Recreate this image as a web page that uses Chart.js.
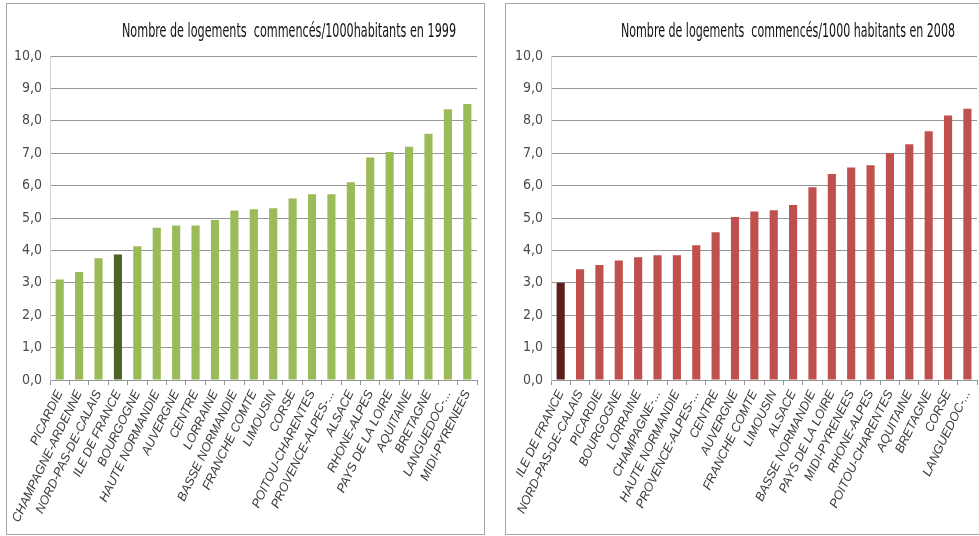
<!DOCTYPE html>
<html>
<head>
<meta charset="utf-8">
<script src="https://cdn.jsdelivr.net/npm/chart.js@4/dist/chart.umd.min.js"></script>
<style>
  html, body { margin: 0; padding: 0; background: #ffffff; overflow: hidden; width: 979px; height: 536px; }
  .panel { position: absolute; top: 3px; height: 530px; border: 1px solid #a6a6a6; background: #fff; }
  #p1 { left: 6px; width: 477px; }
  #p2 { left: 505px; width: 478px; }
  canvas { display: block; }
</style>
</head>
<body>
<div class="panel" id="p1"><canvas id="c1" width="477" height="530"></canvas></div>
<div class="panel" id="p2"><canvas id="c2" width="478" height="530"></canvas></div>
<script>
// Housing starts per 1000 inhabitants, by region, sorted ascending
const regions1999 = ['PICARDIE', 'CHAMPAGNE-ARDENNE', 'NORD-PAS-DE-CALAIS', 'ILE DE FRANCE', 'BOURGOGNE',
  'HAUTE NORMANDIE', 'AUVERGNE', 'CENTRE', 'LORRAINE', 'BASSE NORMANDIE', 'FRANCHE COMTE', 'LIMOUSIN',
  'CORSE', 'POITOU-CHARENTES', 'PROVENCE-ALPES-...', 'ALSACE', 'RHONE-ALPES', 'PAYS DE LA LOIRE',
  'AQUITAINE', 'BRETAGNE', 'LANGUEDOC-...', 'MIDI-PYRENEES'];
const values1999 = [3.1, 3.33, 3.76, 3.87, 4.13, 4.7, 4.77, 4.77, 4.94, 5.23, 5.27, 5.3,
  5.6, 5.73, 5.73, 6.1, 6.87, 7.04, 7.2, 7.6, 8.36, 8.52];

const regions2008 = ['ILE DE FRANCE', 'NORD-PAS-DE-CALAIS', 'PICARDIE', 'BOURGOGNE', 'LORRAINE',
  'CHAMPAGNE-...', 'HAUTE NORMANDIE', 'PROVENCE-ALPES-...', 'CENTRE', 'AUVERGNE', 'FRANCHE COMTE',
  'LIMOUSIN', 'ALSACE', 'BASSE NORMANDIE', 'PAYS DE LA LOIRE', 'MIDI-PYRENEES', 'RHONE-ALPES',
  'POITOU-CHARENTES', 'AQUITAINE', 'BRETAGNE', 'CORSE', 'LANGUEDOC-...'];
const values2008 = [3.0, 3.42, 3.55, 3.69, 3.79, 3.85, 3.85, 4.16, 4.56, 5.03, 5.2, 5.24,
  5.4, 5.95, 6.36, 6.56, 6.63, 7.0, 7.28, 7.68, 8.16, 8.37];

const yTickLabels = ['0,0', '1,0', '2,0', '3,0', '4,0', '5,0', '6,0', '7,0', '8,0', '9,0', '10,0'];
const highlighted = 'ILE DE FRANCE';

const NARROW = "'Liberation Sans Narrow', 'DejaVu Sans Condensed', 'Liberation Sans', sans-serif";
const GRID = '#979797';

// Title drawn at a fixed offset, squeezed to the width of the narrow face
const panelTitle = {
  id: 'panelTitle',
  afterDraw(chart, args, opts) {
    const ctx = chart.ctx;
    ctx.save();
    ctx.font = opts.font;
    ctx.fillStyle = opts.color;
    ctx.textAlign = 'center';
    ctx.textBaseline = 'middle';
    ctx.fillText(opts.text, opts.x, opts.y, opts.maxWidth);
    ctx.restore();
  }
};

function makeChart(id, labels, values, base, dark, title, axisWidth, rightPad) {
  return new Chart(document.getElementById(id), {
    type: 'bar',
    data: {
      labels: labels,
      datasets: [{
        data: values,
        backgroundColor: labels.map(l => l === highlighted ? dark : base),
        categoryPercentage: 1.0,
        barPercentage: 0.42
      }]
    },
    options: {
      responsive: false,
      animation: false,
      events: [],
      layout: { padding: { top: 52, right: rightPad, bottom: 0, left: 0 } },
      plugins: {
        legend: { display: false },
        tooltip: { enabled: false },
        title: { display: false },
        panelTitle: {
          text: title,
          font: "19px " + NARROW,
          color: '#111111',
          x: 282,
          y: 28,
          maxWidth: 334
        }
      },
      scales: {
        x: {
          afterFit(scale) { scale.height = 154; },
          grid: { display: true, drawOnChartArea: false, drawTicks: true, tickLength: 5, color: GRID },
          border: { display: true, color: GRID, width: 1 },
          ticks: {
            autoSkip: false,
            minRotation: 64,
            maxRotation: 64,
            padding: 3,
            color: '#3a3a3a',
            font: { family: "'Liberation Sans', Arial, sans-serif", size: 12.5, style: 'italic' }
          }
        },
        y: {
          min: 0,
          max: 10,
          afterFit(scale) { scale.width = axisWidth; },
          grid: { color: GRID, lineWidth: 1, drawTicks: false },
          border: { display: true, color: '#d4d4d4', width: 1 },
          ticks: {
            stepSize: 1,
            padding: 8,
            color: '#4a4a4a',
            font: { family: NARROW, size: 14 },
            callback: (v) => yTickLabels[Math.round(v)]
          }
        }
      }
    },
    plugins: [panelTitle]
  });
}

makeChart('c1', regions1999, values1999, '#9bbb59', '#4f6228',
  'Nombre de logements  commencés/1000habitants en 1999', 43, 7);
makeChart('c2', regions2008, values2008, '#c0504d', '#5c1f1d',
  'Nombre de logements  commencés/1000 habitants en 2008', 45, 5);
</script>
</body>
</html>
